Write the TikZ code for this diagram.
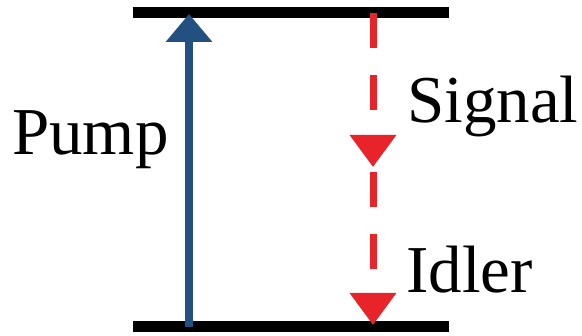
\documentclass[tikz,border=0pt]{standalone}
\usepackage{fontspec}
\newfontfamily\labelfont{Liberation Serif}
\usetikzlibrary{arrows.meta}
\definecolor{pumpblue}{RGB}{34,80,128}
\definecolor{sigred}{RGB}{232,36,42}
\newcommand{\lvltext}[1]{\labelfont\fontsize{67}{80}\selectfont #1}
\tikzset{
  level/.style={line width=11pt, black},
  pumparrow/.style={line width=7.5pt, pumpblue, -{Triangle[length=28pt,width=45pt]}},
  downarrow/.style={line width=7pt, sigred, dash pattern=on 35pt off 27pt,
    -{Triangle[length=32pt,width=45pt]}},
  leveltext/.style={inner sep=0pt, anchor=base west}
}
\begin{document}
\begin{tikzpicture}[x=1pt,y=1pt]
  \useasboundingbox (0,0) rectangle (582,336);
  % energy levels
  \coordinate (upL) at (133,323);
  \coordinate (upR) at (449,323);
  \coordinate (loL) at (133,9);
  \coordinate (loR) at (449,9);
  \draw[level] (upL) -- (upR);
  \draw[level] (loL) -- (loR);
  % pump transition
  \coordinate (pumpFrom) at (189,9);
  \coordinate (pumpTo) at (189,322);
  \draw[pumparrow] (pumpFrom) -- (pumpTo);
  % signal and idler transitions
  \coordinate (sigFrom) at (373,323);
  \coordinate (sigTo) at (373,169);
  \coordinate (idlFrom) at (373,164);
  \coordinate (idlTo) at (373,11);
  \draw[downarrow] (sigFrom) -- (sigTo);
  \draw[downarrow] (idlFrom) -- (idlTo);
  % labels
  \node[leveltext] (pump) at (12,181) {\lvltext{Pump}};
  \node[leveltext] (signal) at (407,213) {\lvltext{Signal}};
  \node[leveltext] (idler) at (406,43) {\lvltext{Idler}};
\end{tikzpicture}
\end{document}
